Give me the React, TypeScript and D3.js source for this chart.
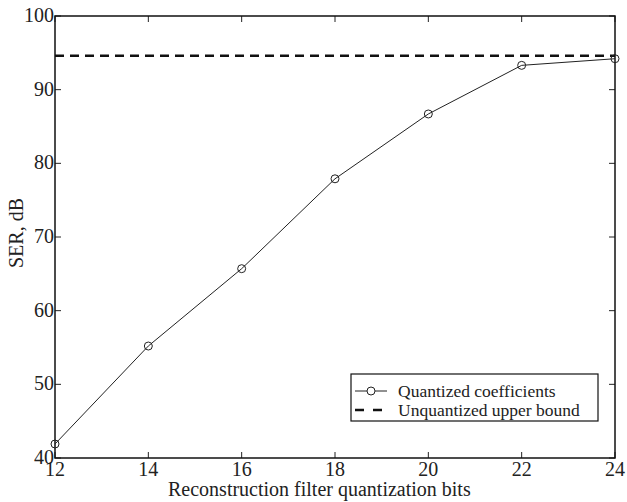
import React, { useEffect, useRef } from 'react'
import * as d3 from 'd3'

const bits = [12, 14, 16, 18, 20, 22, 24]
const serQuantized = [41.9, 55.2, 65.7, 77.9, 86.7, 93.3, 94.2]
const unquantizedBound = 94.6
const xTicks = [12, 14, 16, 18, 20, 22, 24]
const yTicks = [40, 50, 60, 70, 80, 90, 100]
const legendLabels = ['Quantized coefficients', 'Unquantized upper bound']

export default function App() {
  const ref = useRef<HTMLDivElement>(null)

  useEffect(() => {
    const width = 627
    const height = 502
    const m = { top: 16, right: 12, bottom: 44, left: 55 }
    const font = '"Liberation Serif", "Times New Roman", serif'

    const x = d3.scaleLinear().domain([12, 24]).range([m.left, width - m.right])
    const y = d3.scaleLinear().domain([40, 100]).range([height - m.bottom, m.top])

    const svg = d3.create('svg')
      .attr('width', width)
      .attr('height', height)
      .attr('style', 'position:absolute;left:0;top:0;background:#fff')
      .style('font-family', font)

    const x0 = m.left, x1 = width - m.right, y0 = height - m.bottom, y1 = m.top
    const tickLen = 6

    // ticks on all four sides, pointing in
    const ticks = svg.append('g').attr('stroke', '#222').attr('stroke-width', 1)
    xTicks.forEach(t => {
      ticks.append('line').attr('x1', x(t)).attr('x2', x(t)).attr('y1', y0).attr('y2', y0 - tickLen)
      ticks.append('line').attr('x1', x(t)).attr('x2', x(t)).attr('y1', y1).attr('y2', y1 + tickLen)
    })
    yTicks.forEach(t => {
      ticks.append('line').attr('x1', x0).attr('x2', x0 + tickLen).attr('y1', y(t)).attr('y2', y(t))
      ticks.append('line').attr('x1', x1).attr('x2', x1 - tickLen).attr('y1', y(t)).attr('y2', y(t))
    })

    svg.append('rect')
      .attr('x', x0).attr('y', y1)
      .attr('width', x1 - x0).attr('height', y0 - y1)
      .attr('fill', 'none').attr('stroke', '#111').attr('stroke-width', 1.5)

    svg.append('g')
      .attr('font-size', 20).attr('fill', '#222').attr('text-anchor', 'middle')
      .selectAll('text').data(xTicks).join('text')
      .attr('x', d => x(d)).attr('y', y0 + 18)
      .text(d => d)

    svg.append('g')
      .attr('font-size', 20).attr('fill', '#222').attr('text-anchor', 'end')
      .selectAll('text').data(yTicks).join('text')
      .attr('x', x0 - 1).attr('y', d => y(d) + 6)
      .text(d => d)

    svg.append('text')
      .attr('x', 168).attr('y', height - 6)
      .attr('font-size', 20).attr('fill', '#222')
      .text('Reconstruction filter quantization bits')

    svg.append('text')
      .attr('transform', `translate(23,${(y0 + y1) / 2 - 4}) rotate(-90)`)
      .attr('text-anchor', 'middle').attr('font-size', 20).attr('fill', '#222')
      .text('SER, dB')

    // upper bound
    svg.append('line')
      .attr('x1', x0).attr('x2', x1)
      .attr('y1', y(unquantizedBound)).attr('y2', y(unquantizedBound))
      .attr('stroke', '#111').attr('stroke-width', 2.5).attr('stroke-dasharray', '9,6')

    const pts = bits.map((b, i) => [b, serQuantized[i]] as [number, number])
    svg.append('path')
      .attr('d', d3.line().x(d => x(d[0])).y(d => y(d[1]))(pts))
      .attr('fill', 'none').attr('stroke', '#222').attr('stroke-width', 1)

    svg.append('g').selectAll('circle').data(pts).join('circle')
      .attr('cx', d => x(d[0])).attr('cy', d => y(d[1])).attr('r', 4)
      .attr('fill', 'none').attr('stroke', '#222').attr('stroke-width', 1)

    // legend
    const lg = svg.append('g').attr('transform', 'translate(351,374)')
    lg.append('rect').attr('width', 247).attr('height', 47)
      .attr('fill', '#fff').attr('stroke', '#111').attr('stroke-width', 1.2)
    lg.append('line').attr('x1', 4).attr('x2', 36).attr('y1', 17).attr('y2', 17)
      .attr('stroke', '#222').attr('stroke-width', 1)
    lg.append('circle').attr('cx', 20).attr('cy', 17).attr('r', 4)
      .attr('fill', '#fff').attr('stroke', '#222').attr('stroke-width', 1)
    lg.append('line').attr('x1', 4).attr('x2', 31).attr('y1', 36).attr('y2', 36)
      .attr('stroke', '#111').attr('stroke-width', 2.5).attr('stroke-dasharray', '9,9')
    lg.selectAll('text.lab').data(legendLabels).join('text')
      .attr('x', 47).attr('y', (d, i) => 23 + i * 19)
      .attr('font-size', 17.5).attr('fill', '#222')
      .text(d => d)

    const el = ref.current
    if (el) {
      el.innerHTML = ''
      el.append(svg.node() as SVGSVGElement)
    }
  }, [])

  return <div ref={ref}></div>
}
